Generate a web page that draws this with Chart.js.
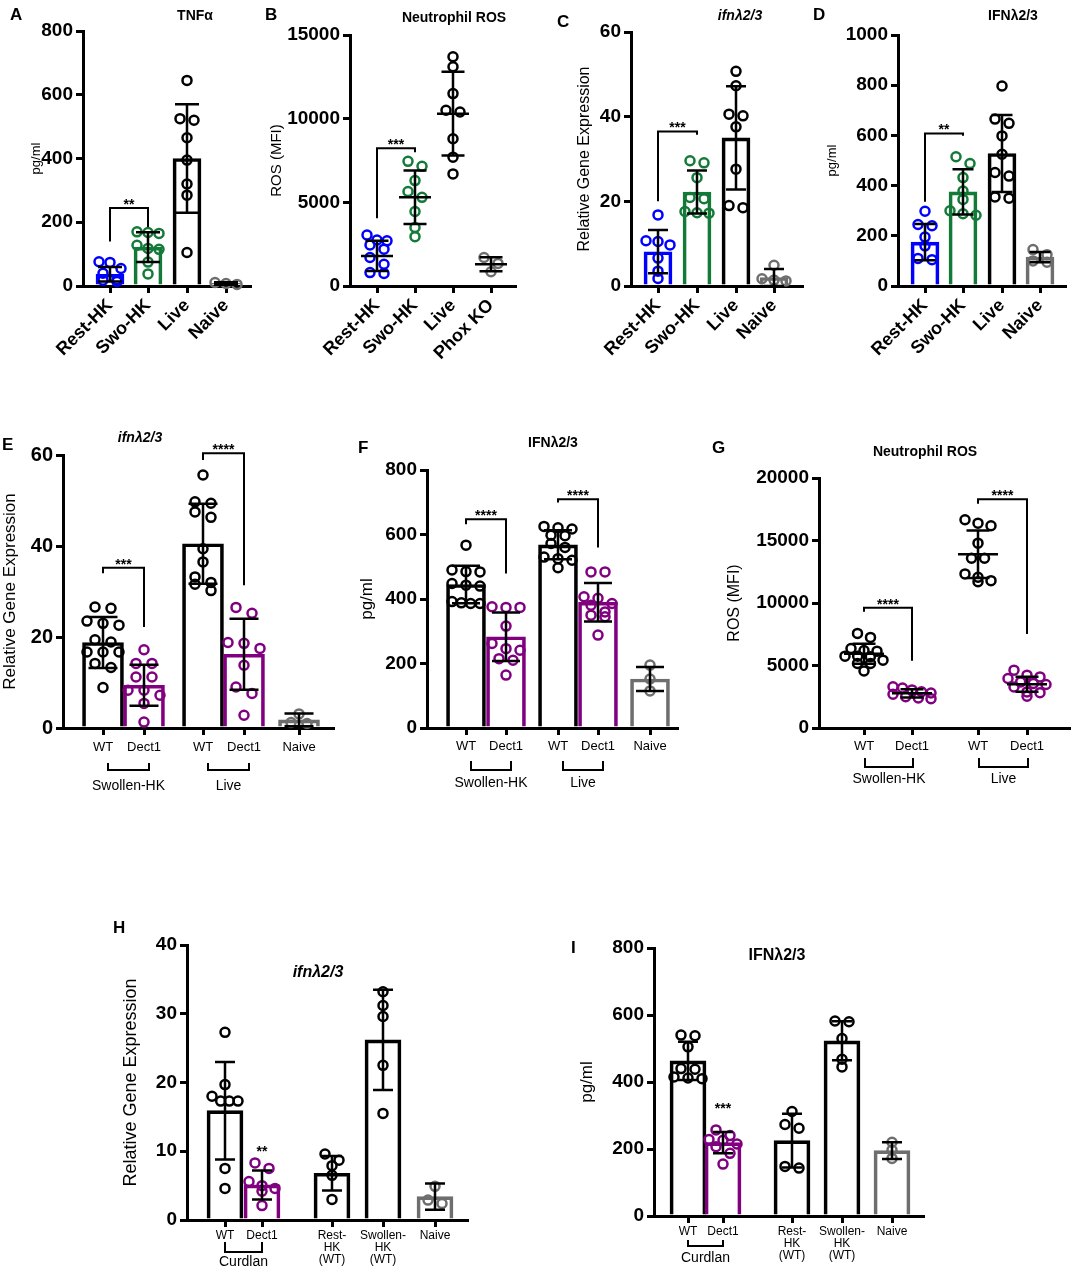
<!DOCTYPE html>
<html><head><meta charset="utf-8">
<script src="https://cdn.jsdelivr.net/npm/chart.js@4.4.1/dist/chart.umd.min.js"></script>
<style>
html,body{margin:0;padding:0;background:#fff;}
#wrap{position:relative;width:1071px;height:1267px;overflow:hidden;font-family:"Liberation Sans",Arial,Helvetica,sans-serif;background:#fff;}
canvas{position:absolute;}
.t{position:absolute;font-weight:bold;color:#000;white-space:nowrap;transform:translate(-50%,-50%);font-size:14px;}
.l{position:absolute;font-weight:bold;color:#000;font-size:17px;transform:translate(0,-50%);}
</style></head><body><div id="wrap"></div>
<script>
// ---------------- DATA ----------------
const A_categories = ["Rest-HK","Swo-HK","Live","Naive"];
const A_mean = [37, 122, 400, 8];
const A_sd = [23, 47, 170, 4];
const A_points = [[76,74,55,40,20,18,14],[170,168,165,128,118,115,75,38],[645,525,520,465,395,320,285,105],[11,8,5]];

const B_categories = ["Rest-HK","Swo-HK","Live","Phox KO"];
const B_mean = [1800, 5300, 10300, 1300];
const B_sd = [900, 1600, 2500, 420];
const B_points = [[3050,2750,2700,2450,2200,1700,1300,800,750],[7450,7150,6300,5650,5300,4450,3500,2950],[13700,13100,11500,10500,10400,8800,7700,6700],[1700,1350,850]];

const C_categories = ["Rest-HK","Swo-HK","Live","Naive"];
const C_mean = [8.1, 22.2, 35, 2];
const C_sd = [5.1, 5.1, 12.2, 2];
const C_points = [[16.8,10.7,10.5,9.7,6.6,3.5,1.8],[29.6,29.1,25.6,20.9,20.6,17.6,17.3,17.2],[50.7,47.3,40.6,40.2,37.6,27.6,19.0,18.5],[4.9,1.7,1.4,1.2]];

const D_categories = ["Rest-HK","Swo-HK","Live","Naive"];
const D_mean = [175, 375, 528, 115];
const D_sd = [72, 90, 153, 20];
const D_points = [[298,245,240,195,160,110,105],[515,488,432,378,345,300,288,282],[797,665,648,598,525,452,438,355,350],[145,125,100,95]];

const E_categories = ["WT","Dect1","WT","Dect1","Naive"];
const E_mean = [18.8, 9.4, 40.5, 16.2, 1.8];
const E_sd = [5.6, 4.5, 8.8, 7.8, 1.4];
const E_points = [[26.6,26.3,23.5,23.0,22.6,19.4,18.9,16.7,16.7,16.7,14.2,13.3,8.9],[17.2,14.2,14.2,11.2,11.2,8.3,8.3,7.2,5.4,1.3],[55.6,49.7,49.4,47.5,46.3,39.4,36.5,33.2,32.0,31.6,30.2],[26.5,25.2,18.8,18.6,17.5,13.8,9.0,7.6,2.8],[3.1,1.2,1.0]];

const F_categories = ["WT","Dect1","WT","Dect1","Naive"];
const F_mean = [445, 283, 568, 390, 152];
const F_sd = [58, 75, 45, 60, 37];
const F_points = [[567,490,485,484,448,443,440,392,388,386,386],[376,374,374,316,262,246,241,215,210,164],[625,621,617,598,596,572,560,530,525,520,497],[484,484,407,402,386,381,360,350,345,288],[195,152,115]];

const G_categories = ["WT","Dect1","WT","Dect1"];
const G_mean = [5950, 2780, 13900, 3500];
const G_sd = [800, 330, 1900, 600];
const G_points = [[7570,7250,6360,6200,6150,5750,5750,5700,5430,5160,5160,4570],[3300,3200,3050,2900,2800,2700,2500,2400,2350],[16660,16390,16180,14790,13580,13580,12330,12060,11790,11710],[4630,4230,4090,3960,3690,3560,3480,3290,2890,2830,2540]];

const H_categories = [["WT"],["Dect1"],["Rest-","HK","(WT)"],["Swollen-","HK","(WT)"],["Naive"]];
const H_mean = [15.9, 5.1, 6.8, 26.2, 3.4];
const H_sd = [7.1, 2.1, 2.5, 7.3, 1.9];
const H_points = [[27.3,19.7,18.0,17.3,17.3,17.3,7.5,4.6],[8.3,7.5,5.6,5.0,4.6,4.2,2.1],[9.6,8.7,7.9,6.5,3.0],[33.2,31.2,29.6,22.5,15.5],[4.9,2.9,2.4]];

const I_categories = [["WT"],["Dect1"],["Rest-","HK","(WT)"],["Swollen-","HK","(WT)"],["Naive"]];
const I_mean = [463, 219, 225, 523, 195];
const I_sd = [57, 32, 80, 58, 25];
const I_points = [[540,538,505,440,438,415,412,410],[257,240,228,226,215,207,187,155],[312,273,262,148,143],[582,580,530,468,445],[220,197,172]];

// significance brackets (data values): a,b = category index, y = bar level, ya/yb = ends
const A_sig = [{a:0,b:1,y:245,ya:140,yb:185,text:"**"}];
const B_sig = [{a:0,b:1,y:8230,ya:4050,yb:8000,text:"***"}];
const C_sig = [{a:0,b:1,y:36.5,ya:20,yb:35.7,text:"***"}];
const D_sig = [{a:0,b:1,y:608,ya:336,yb:599,text:"**"}];
const E_sig = [{a:0,b:1,y:35.2,ya:34,yb:22.2,text:"***"},{a:2,b:3,y:60.4,ya:58.9,yb:31.4,text:"****"}];
const F_sig = [{a:0,b:1,y:647,ya:632,yb:479,text:"****"},{a:2,b:3,y:709,ya:699,yb:560,text:"****"}];
const G_sig = [{a:0,b:1,y:9625,ya:9300,yb:5375,text:"****"},{a:2,b:3,y:18300,ya:17940,yb:7513,text:"****"}];
const H_stars = [{i:1,y:9.9,text:"**"}];
const I_stars = [{i:1,y:318,text:"***"}];

const E_groups = [{a:0,b:1,label:"Swollen-HK"},{a:2,b:3,label:"Live"}];
const F_groups = [{a:0,b:1,label:"Swollen-HK"},{a:2,b:3,label:"Live"}];
const G_groups = [{a:0,b:1,label:"Swollen-HK"},{a:2,b:3,label:"Live"}];
const H_groups = [{a:0,b:1,label:"Curdlan"}];
const I_groups = [{a:0,b:1,label:"Curdlan"}];

// ---------------- STYLE / LAYOUT ----------------
const BLUE="#0000ff", GREEN="#137a38", PURPLE="#800080", GREY="#6e6e6e", BLACK="#000000";
const FF='"Liberation Sans", Arial, Helvetica, sans-serif';
const wrap=document.getElementById('wrap');

// GraphPad-like row layout of scatter dots (deterministic horizontal offsets, in px)
function rows(vals, ppu, sp, maxW, th){
  const idx=vals.map((v,i)=>i).sort((a,b)=>vals[b]-vals[a]);
  const out=new Array(vals.length);
  let i=0;
  while(i<idx.length){
    const y0=vals[idx[i]]*ppu;
    let j=i+1;
    while(j<idx.length && y0-vals[idx[j]]*ppu<th) j++;
    const n=j-i, s=n>1?Math.min(sp,maxW/(n-1)):0;
    for(let k=0;k<n;k++) out[idx[i+k]]=(k-(n-1)/2)*s;
    i=j;
  }
  return out;
}

const decor={
  id:'decor',
  afterDatasetsDraw(chart,args,o){
    const ctx=chart.ctx, xs=chart.scales.x, ys=chart.scales.y;
    ctx.save();
    ctx.strokeStyle='#000'; ctx.fillStyle='#000'; ctx.lineWidth=2.5; ctx.lineCap='butt';
    o.mean.forEach((m,i)=>{
      const x=xs.getPixelForValue(o.xPos[i]);
      const yT=ys.getPixelForValue(m+o.sd[i]), yB=ys.getPixelForValue(Math.max(0,m-o.sd[i])), yM=ys.getPixelForValue(m);
      ctx.beginPath();
      ctx.moveTo(x,yT); ctx.lineTo(x,yB);
      ctx.moveTo(x-o.cap/2,yT); ctx.lineTo(x+o.cap/2,yT);
      ctx.moveTo(x-o.cap/2,yB); ctx.lineTo(x+o.cap/2,yB);
      if(o.meanLine){ ctx.moveTo(x-o.meanLine/2,yM); ctx.lineTo(x+o.meanLine/2,yM); }
      ctx.stroke();
    });
    ctx.lineWidth=2;
    ctx.font='bold 14px '+FF; ctx.textAlign='center'; ctx.textBaseline='alphabetic';
    (o.sig||[]).forEach(s=>{
      const x1=xs.getPixelForValue(o.xPos[s.a]), x2=xs.getPixelForValue(o.xPos[s.b]);
      const y=ys.getPixelForValue(s.y), y1=ys.getPixelForValue(s.ya), y2=ys.getPixelForValue(s.yb);
      ctx.beginPath(); ctx.moveTo(x1,y1); ctx.lineTo(x1,y); ctx.lineTo(x2,y); ctx.lineTo(x2,y2); ctx.stroke();
      ctx.fillText(s.text,(x1+x2)/2,y+1);
    });
    (o.stars||[]).forEach(s=>{
      ctx.fillText(s.text, xs.getPixelForValue(o.xPos[s.i]), ys.getPixelForValue(s.y)+4);
    });
    const b=ys.bottom;
    (o.groups||[]).forEach(g=>{
      const x1=xs.getPixelForValue(o.xPos[g.a])+o.gShift, x2=xs.getPixelForValue(o.xPos[g.b])+o.gShift;
      ctx.beginPath(); ctx.moveTo(x1,b+o.gTick); ctx.lineTo(x1,b+o.gLine); ctx.lineTo(x2,b+o.gLine); ctx.lineTo(x2,b+o.gTick); ctx.stroke();
      ctx.font=o.gFont; ctx.textBaseline='middle';
      ctx.fillText(g.label,(x1+x2)/2,b+o.gText);
    });
    ctx.restore();
  }
};

function panel(L, cats, mean, sd, points, colors, extra){
  const c=document.createElement('canvas');
  c.width=L.cw; c.height=L.ch; c.style.left=L.cx+'px'; c.style.top=L.cy+'px';
  wrap.appendChild(c);
  const ppu=(L.yZero-L.yTop)/L.yMax;
  const ds=[];
  if(L.bars){
    ds.push({type:'bar', data:mean.map((m,i)=>({x:L.xPos[i],y:m})), backgroundColor:'rgba(255,255,255,0)',
      borderColor:colors, borderWidth:3, barThickness:L.barW, borderSkipped:'start', order:2});
  }
  points.forEach((arr,i)=>{
    const off=rows(arr,ppu,L.sp||14,L.maxW,7);
    ds.push({type:'scatter', data:arr.map((v,j)=>({x:L.xPos[i]+off[j],y:v})), showLine:false,
      pointRadius:4.5, pointHoverRadius:4.5, pointBorderWidth:2.5, pointBorderColor:colors[i],
      pointBackgroundColor:'rgba(255,255,255,0)', clip:false, order:1});
  });
  const grid={display:true, drawOnChartArea:false, drawTicks:true, tickLength:7, tickWidth:3, tickColor:'#000', lineWidth:3, color:'#000', offset:false};
  const border={display:true, width:3, color:'#000'};
  new Chart(c,{
    type:'bar', data:{datasets:ds},
    options:{responsive:false, animation:false, devicePixelRatio:1, events:[],
      layout:{autoPadding:false, padding:{left:0, top:L.yTop-L.cy, right:L.cw-(L.xEnd-L.cx), bottom:0}},
      plugins:{legend:{display:false}, tooltip:{enabled:false},
        decor:Object.assign({mean, sd, xPos:L.xPos, cap:L.cap, meanLine:L.meanLine||0,
          gTick:L.gTick, gLine:L.gLine, gText:L.gText, gShift:L.gShift||0, gFont:L.gFont}, extra)},
      scales:{
        x:{type:'linear', min:0, max:L.xEnd-L.axisX, offset:false,
          afterFit(s){s.height=L.cy+L.ch-L.yZero;},
          afterBuildTicks(s){s.ticks=L.xPos.map(v=>({value:v}));},
          grid, border,
          ticks:{autoSkip:false, maxRotation:L.rot, minRotation:L.rot, padding:L.xPad, color:'#000', font:L.xFont,
            callback:(v,i)=>cats[i]}},
        y:{type:'linear', min:0, max:L.yMax,
          afterFit(s){s.width=L.axisX-L.cx;},
          grid, border,
          ticks:{stepSize:L.yStep, color:'#000', font:{family:FF,size:L.yFs,weight:'bold'}, padding:3, callback:v=>String(v)},
          title:{display:true, text:L.yTitle, color:'#000', font:{family:FF,size:L.yTitleFs}, padding:{top:L.yTitlePad,bottom:0}}}
      }},
    plugins:[decor]});
}

const rotFont={family:FF,size:18,weight:'bold'};
const smallFont={family:FF,size:13};
const tinyFont={family:FF,size:12,lineHeight:1.0};

panel({cx:20,cy:0,cw:250,ch:370,axisX:83,xEnd:250,yTop:31,yZero:286,yMax:800,yStep:200,yFs:19,
  xPos:[27,65,104,143],bars:true,barW:28,cap:24,rot:45,xPad:2,xFont:rotFont,maxW:22,
  yTitle:"pg/ml",yTitleFs:13,yTitlePad:9},
  A_categories,A_mean,A_sd,A_points,[BLUE,GREEN,BLACK,GREY],{sig:A_sig});

panel({cx:262,cy:0,cw:273,ch:370,axisX:350,xEnd:515,yTop:35,yZero:286,yMax:15000,yStep:5000,yFs:19,
  xPos:[27,65,103,141],bars:false,cap:23,meanLine:32,rot:45,xPad:2,xFont:rotFont,maxW:20,
  yTitle:"ROS (MFI)",yTitleFs:15,yTitlePad:6},
  B_categories,B_mean,B_sd,B_points,[BLUE,GREEN,BLACK,GREY],{sig:B_sig});

panel({cx:560,cy:0,cw:250,ch:370,axisX:631,xEnd:802,yTop:32,yZero:286,yMax:60,yStep:20,yFs:19,
  xPos:[27,66,105,143],bars:true,barW:28,cap:20,rot:45,xPad:2,xFont:rotFont,maxW:24,
  yTitle:"Relative Gene Expression",yTitleFs:16,yTitlePad:15},
  C_categories,C_mean,C_sd,C_points,[BLUE,GREEN,BLACK,GREY],{sig:C_sig});

panel({cx:815,cy:0,cw:256,ch:370,axisX:898,xEnd:1065,yTop:35,yZero:286,yMax:1000,yStep:200,yFs:19,
  xPos:[27,65,104,142],bars:true,barW:28,cap:21,rot:45,xPad:2,xFont:rotFont,maxW:26,
  yTitle:"pg/ml",yTitleFs:13,yTitlePad:10},
  D_categories,D_mean,D_sd,D_points,[BLUE,GREEN,BLACK,GREY],{sig:D_sig});

panel({cx:0,cy:430,cw:340,ch:370,axisX:63,xEnd:333,yTop:455,yZero:728,yMax:60,yStep:20,yFs:20,
  xPos:[40,81,140,181,236],bars:true,barW:41,cap:29,rot:0,xPad:5,xFont:smallFont,maxW:32,sp:16,
  yTitle:"Relative Gene Expression",yTitleFs:17,yTitlePad:0,
  gTick:35,gLine:42,gText:58,gShift:5,gFont:'14px '+FF},
  E_categories,E_mean,E_sd,E_points,[BLACK,PURPLE,BLACK,PURPLE,GREY],{sig:E_sig,groups:E_groups});

panel({cx:350,cy:430,cw:330,ch:370,axisX:427,xEnd:677,yTop:470,yZero:728,yMax:800,yStep:200,yFs:19,
  xPos:[39,79,131,171,223],bars:true,barW:39,cap:28,rot:0,xPad:4,xFont:smallFont,maxW:28,
  yTitle:"pg/ml",yTitleFs:17,yTitlePad:7,
  gTick:33,gLine:42,gText:55,gShift:5,gFont:'14px '+FF},
  F_categories,F_mean,F_sd,F_points,[BLACK,PURPLE,BLACK,PURPLE,GREY],{sig:F_sig,groups:F_groups});

panel({cx:715,cy:430,cw:356,ch:370,axisX:819,xEnd:1071,yTop:478,yZero:728,yMax:20000,yStep:5000,yFs:19,
  xPos:[45,93,159,208],bars:false,cap:23,meanLine:40,rot:0,xPad:4,xFont:smallFont,maxW:38,sp:13,
  yTitle:"ROS (MFI)",yTitleFs:16,yTitlePad:10,
  gTick:30,gLine:39,gText:51,gShift:1,gFont:'14px '+FF},
  G_categories,G_mean,G_sd,G_points,[BLACK,PURPLE,BLACK,PURPLE],{sig:G_sig,groups:G_groups});

panel({cx:110,cy:900,cw:370,ch:367,axisX:187,xEnd:467,yTop:945,yZero:1220,yMax:40,yStep:10,yFs:19,
  xPos:[38,75,145,196,248],bars:true,barW:36,cap:20,rot:0,xPad:3,xFont:tinyFont,maxW:26,
  yTitle:"Relative Gene Expression",yTitleFs:18,yTitlePad:10,
  gTick:22,gLine:32,gText:42,gShift:0,gFont:'14px '+FF},
  H_categories,H_mean,H_sd,H_points,[BLACK,PURPLE,BLACK,BLACK,GREY],{stars:H_stars,groups:H_groups});

panel({cx:565,cy:900,cw:370,ch:367,axisX:654,xEnd:923,yTop:948,yZero:1216,yMax:800,yStep:200,yFs:19,
  xPos:[34,69,138,188,238],bars:true,barW:36,cap:20,rot:0,xPad:3,xFont:tinyFont,maxW:28,
  yTitle:"pg/ml",yTitleFs:17,yTitlePad:12,
  gTick:24,gLine:30,gText:42,gShift:0,gFont:'14px '+FF},
  I_categories,I_mean,I_sd,I_points,[BLACK,PURPLE,BLACK,BLACK,GREY],{stars:I_stars,groups:I_groups});

// ---------------- TEXT LABELS ----------------
const letters=[["A",10,15],["B",265,15],["C",557,22],["D",813,15],["E",2,445],["F",358,448],["G",712,448],["H",113,928],["I",571,948]];
letters.forEach(([t,x,y])=>{const d=document.createElement('div');d.className='l';d.textContent=t;d.style.left=x+'px';d.style.top=y+'px';wrap.appendChild(d);});
const titles=[["TNFα",195,15,14,false],["Neutrophil ROS",454,17,14,false],["ifnλ2/3",740,15,14,true],["IFNλ2/3",1013,15,14,false],
  ["ifnλ2/3",140,437,14,true],["IFNλ2/3",553,442,14,false],["Neutrophil ROS",925,451,14,false],["ifnλ2/3",318,972,16,true],["IFNλ2/3",777,955,16,false]];
titles.forEach(([t,x,y,s,it])=>{const d=document.createElement('div');d.className='t';d.textContent=t;d.style.left=x+'px';d.style.top=y+'px';d.style.fontSize=s+'px';if(it)d.style.fontStyle='italic';wrap.appendChild(d);});
</script></body></html>
